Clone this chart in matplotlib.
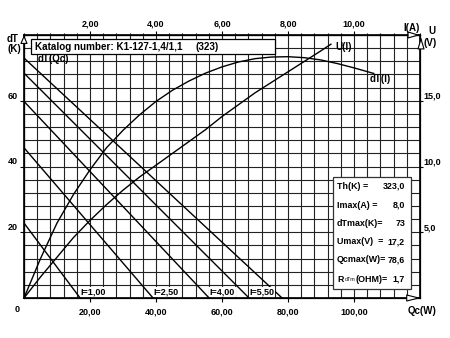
import matplotlib.pyplot as plt
import matplotlib.patches as mpatches
import numpy as np

plt.rcParams['font.family'] = ['Liberation Sans', 'DejaVu Sans']
plt.rcParams['font.weight'] = 'bold'

W, H = 450, 338

# dT(Qc) lines for each current: dT at Qc = 0 and Qc at dT = 0
current_labels = ['I=1,00', 'I=2,50', 'I=4,00', 'I=5,50', '']
dt_at_q0 = [22.8, 45.7, 59.8, 68.4, 73.0]
qc_at_dt0 = [17.0, 39.1, 56.1, 68.2, 78.2]

# dT(I) at Qc = 0
i_dt = [0, 0.5, 1, 1.5, 2, 2.5, 3, 3.5, 4, 4.5, 5, 5.5, 6, 6.5, 7,
        7.5, 8, 8.5, 9, 9.5, 10, 10.6]
dt_i = [0, 12.0, 22.8, 31.5, 39.0, 45.7, 51.0, 55.7, 59.8, 63.2, 66.0,
        68.4, 70.3, 71.8, 72.8, 73.3, 73.4, 73.1, 72.4, 71.3, 70.0, 68.3]

# U(I)
i_u = [0, 0.5, 1, 1.5, 2, 2.5, 3, 3.5, 4, 4.5, 5, 5.5, 6, 6.5, 7,
       7.5, 8, 8.5, 9, 9.3]
u_i = [0, 1.6, 3.1, 4.6, 5.9, 7.1, 8.2, 9.2, 10.1, 11.0, 11.9, 12.8,
       13.8, 14.7, 15.6, 16.4, 17.2, 18.0, 18.8, 19.3]

qc_ticks = [20, 40, 60, 80, 100]
qc_labels = ['20,00', '40,00', '60,00', '80,00', '100,00']
i_ticks = [2, 4, 6, 8, 10]
i_labels = ['2,00', '4,00', '6,00', '8,00', '10,00']
dt_ticks = [20, 40, 60]
dt_labels = ['20', '40', '60']
u_ticks = [5, 10, 15]
u_labels = ['5,0', '10,0', '15,0']

param_names = ['Th(K) =', 'Imax(A) =', 'dTmax(K)=', 'Umax(V)  =', 'Qcmax(W)=', '(OHM)=']
param_values = ['323,0', '8,0', '73', '17,2', '78,6', '1,7']


def fx(x):
    return x / W


def fy(y):
    return 1 - y / H


fig = plt.figure(figsize=(4.5, 3.38), dpi=100)
ax = fig.add_axes([fx(24), fy(298), 396 / W, 263 / H])
ax.set_xlim(0, 120)
ax.set_ylim(0, 80)
ax.set_xticks(np.arange(0, 121, 4), minor=True)
ax.set_yticks(np.arange(0, 81, 4), minor=True)
ax.set_xticks(qc_ticks, qc_labels)
ax.set_yticks(dt_ticks, dt_labels)
ax.grid(which='both', color='#222222', lw=0.8)
ax.tick_params(which='minor', length=0)
ax.tick_params(which='major', length=3, width=0.8, labelsize=6.5)
ax.tick_params(axis='x', pad=3.5)
ax.tick_params(axis='y', pad=1.5)
for t in ax.get_yticklabels():
    t.set_va('bottom')
for s in ax.spines.values():
    s.set_linewidth(1.2)

# dT(Qc) lines
for lab, d0, q0 in zip(current_labels, dt_at_q0, qc_at_dt0):
    ax.plot([0, q0], [d0, 0], color='black', lw=1.0)
    if lab:
        ax.annotate(lab, xy=(q0, 0), xytext=(0.5, 1), textcoords='offset points',
                    ha='left', va='bottom', fontsize=6.5,
                    bbox=dict(fc='white', ec='none', pad=0.3))

# current axis on top, dT(I)
ax_i = ax.twiny()
ax_i.set_xlim(0, 12)
ax_i.set_xticks(np.arange(0, 12.01, 0.4), minor=True)
ax_i.set_xticks(i_ticks, i_labels)
ax_i.tick_params(which='minor', length=1.8, width=0.8)
ax_i.tick_params(which='major', length=3, width=0.8, labelsize=6.5, pad=1.5)
ax_i.plot(i_dt, dt_i, color='black', lw=1.0)

# voltage axis on the right, U(I)
ax_u = ax_i.twinx()
ax_u.set_ylim(0, 20)
ax_u.set_yticks(u_ticks, u_labels)
ax_u.tick_params(length=2, width=0.8, labelsize=6.5, pad=0.5)
for t in ax_u.get_yticklabels():
    t.set_va('bottom')
ax_u.plot(i_u, u_i, color='black', lw=1.0)


def arrow(tip, tail, length, width):
    fig.add_artist(mpatches.FancyArrowPatch(
        (tail[0], H - tail[1]), (tip[0], H - tip[1]), transform=None,
        arrowstyle=f'-|>,head_length={length * 0.72},head_width={width * 0.36}',
        mutation_scale=1, fc='white', ec='black', lw=0.8, shrinkA=0, shrinkB=0))


arrow((24, 35), (24, 42), 7, 6)
arrow((421, 298), (409, 298), 12, 6)
arrow((420, 35), (410, 35), 10, 6)
arrow((421, 37), (421, 47), 10, 6)

# axis titles
fig.text(fx(7), fy(38.5), 'dT', fontsize=7, va='center')
fig.text(fx(7), fy(49), '(K)', fontsize=7, va='center')
fig.text(fx(17), fy(310), '0', fontsize=6.5, ha='center', va='center')
fig.text(fx(403), fy(28), 'I(A)', fontsize=7, va='center')
fig.text(fx(428), fy(31), 'U', fontsize=7, va='center')
fig.text(fx(424), fy(43.5), '(V)', fontsize=7, va='center')
fig.text(fx(408), fy(311), 'Qc(W)', fontsize=7, va='center')

# catalog header
fig.add_artist(mpatches.Rectangle((fx(31), fy(54)), 244 / W, 15 / H,
                                  transform=fig.transFigure, fc='white',
                                  ec='black', lw=0.9))
fig.text(fx(35), fy(46.5), 'Katalog number: K1-127-1,4/1,1', fontsize=7.1, va='center')
fig.text(fx(195), fy(46.5), '(323)', fontsize=7.1, va='center')
fig.text(fx(38), fy(58.5), 'dT(Qc)', fontsize=7, va='center')

# curve labels
fig.text(fx(335), fy(46.5), 'U(I)', fontsize=7, va='center')
fig.text(fx(370), fy(79.5), 'dT(I)', fontsize=7, va='center')

# module parameters
fig.add_artist(mpatches.Rectangle((fx(333), fy(289)), 78 / W, 112 / H,
                                  transform=fig.transFigure, fc='white',
                                  ec='#333333', lw=0.9))
rows_y = [186.5, 205, 223.5, 241.5, 260, 279]
for name, val, y in zip(param_names, param_values, rows_y):
    x0 = 337
    if name.startswith('(OHM'):
        fig.text(fx(337), fy(y), 'R', fontsize=6.4, va='center')
        fig.text(fx(344.5), fy(y + 0.5), 'dTm', fontsize=3.8, va='center', weight='normal')
        x0 = 355.5
    fig.text(fx(x0), fy(y), name, fontsize=6.4, va='center')
    fig.text(fx(405), fy(y), val, fontsize=6.4, va='center', ha='right')

fig.savefig('out.png', dpi=100)
